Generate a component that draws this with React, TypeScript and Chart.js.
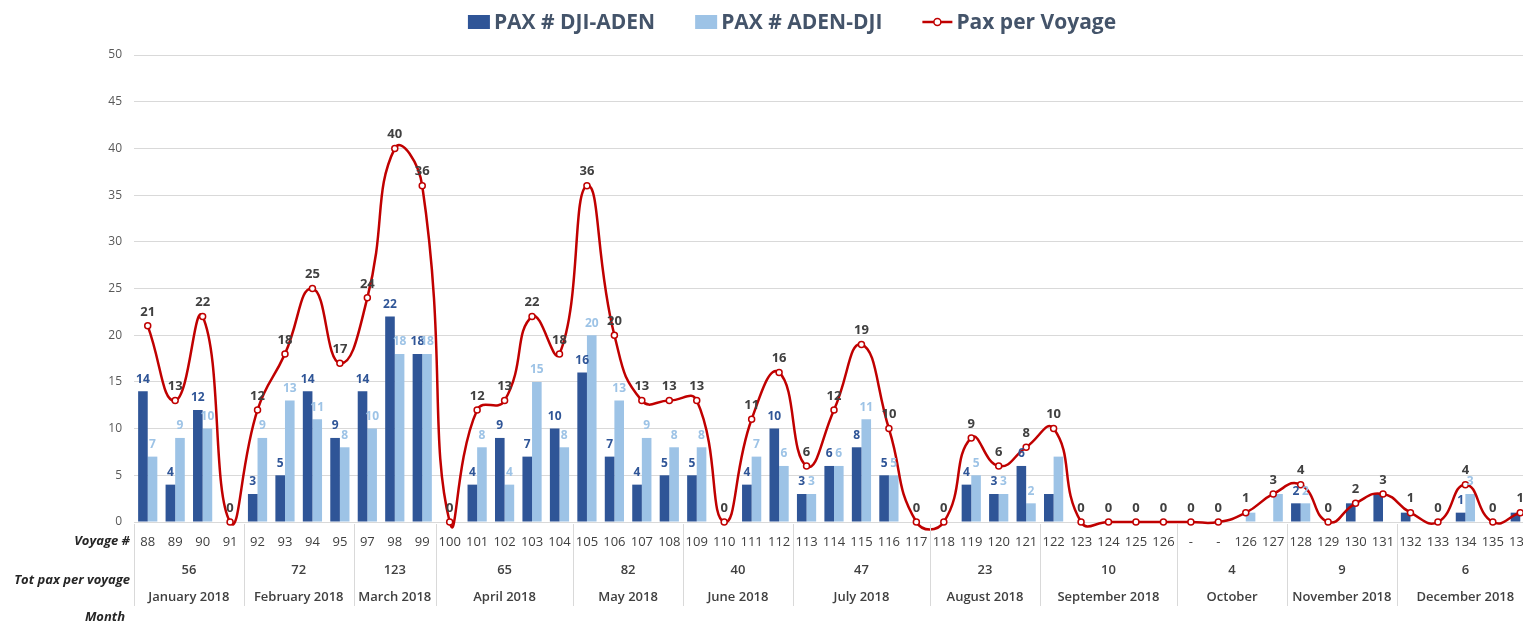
import React, { useEffect, useRef } from "react";
import { Chart, registerables } from "chart.js";
Chart.register(...registerables);

const voyages = [
  "88", "89", "90", "91",
  "92", "93", "94", "95",
  "97", "98", "99",
  "100", "101", "102", "103", "104",
  "105", "106", "107", "108",
  "109", "110", "111", "112",
  "113", "114", "115", "116", "117",
  "118", "119", "120", "121",
  "122", "123", "124", "125", "126",
  "-", "-", "126", "127",
  "128", "129", "130", "131",
  "132", "133", "134", "135", "136",
];

const paxDjiAden = [
  14, 4, 12, 0,
  3, 5, 14, 9,
  14, 22, 18,
  0, 4, 9, 7, 10,
  16, 7, 4, 5,
  5, 0, 4, 10,
  3, 6, 8, 5, 0,
  0, 4, 3, 6,
  3, 0, 0, 0, 0,
  0, 0, 0, 0,
  2, 0, 2, 3,
  1, 0, 1, 0, 1,
];

const paxAdenDji = [
  7, 9, 10, 0,
  9, 13, 11, 8,
  10, 18, 18,
  0, 8, 4, 15, 8,
  20, 13, 9, 8,
  8, 0, 7, 6,
  3, 6, 11, 5, 0,
  0, 5, 3, 2,
  7, 0, 0, 0, 0,
  0, 0, 1, 3,
  2, 0, 0, 0,
  0, 0, 3, 0, 0,
];

const paxPerVoyage = [
  21, 13, 22, 0,
  12, 18, 25, 17,
  24, 40, 36,
  0, 12, 13, 22, 18,
  36, 20, 13, 13,
  13, 0, 11, 16,
  6, 12, 19, 10, 0,
  0, 9, 6, 8,
  10, 0, 0, 0, 0,
  0, 0, 1, 3,
  4, 0, 2, 3,
  1, 0, 4, 0, 1,
];

const monthNames = [
  "January 2018", "February 2018", "March 2018", "April 2018", "May 2018", "June 2018",
  "July 2018", "August 2018", "September 2018", "October", "November 2018", "December 2018",
];
const monthVoyageCounts = [4, 4, 3, 5, 4, 4, 5, 4, 5, 4, 4, 5];
const monthTotals = ["56", "72", "123", "65", "82", "40", "47", "23", "10", "4", "9", "6"];

// category indices whose bar value labels are not shown in the original
const hiddenBarLabelIdx = [33, 40, 41, 44, 45, 46, 50];

const legendNames = ["PAX # DJI-ADEN", "PAX # ADEN-DJI", "Pax per Voyage"];

const DARK = "#2F5597";
const LIGHT = "#9DC3E6";
const RED = "#C00000";
const FONT = "'Open Sans', 'Noto Sans', sans-serif";

const labelsPlugin = {
  id: "valueLabels",
  afterDatasetsDraw(chart: any) {
    const ctx = chart.ctx;
    ctx.save();
    ctx.textAlign = "center";
    ctx.textBaseline = "middle";
    [0, 1].forEach((di) => {
      const meta = chart.getDatasetMeta(di);
      const ds = chart.data.datasets[di];
      ctx.fillStyle = di === 0 ? DARK : LIGHT;
      ctx.font = `bold 12px ${FONT}`;
      meta.data.forEach((el: any, i: number) => {
        const v = ds.data[i];
        if (!v || hiddenBarLabelIdx.includes(i)) return;
        ctx.fillText(String(v), el.x, el.y - 12);
      });
    });
    const lm = chart.getDatasetMeta(2);
    const lds = chart.data.datasets[2];
    ctx.fillStyle = "#404040";
    ctx.font = `bold 13px ${FONT}`;
    lm.data.forEach((el: any, i: number) => {
      ctx.fillText(String(lds.data[i]), el.x, el.y - 14);
    });
    ctx.restore();
  },
};

const tablePlugin = {
  id: "tableAndLegend",
  afterDraw(chart: any) {
    const ctx = chart.ctx;
    const xs = chart.scales.x;
    ctx.save();
    // separators
    ctx.strokeStyle = "#d9d9d9";
    ctx.lineWidth = 1;
    let start = 0;
    const bounds: number[] = [xs.left];
    monthVoyageCounts.forEach((c) => {
      start += c;
      if (start < voyages.length) {
        bounds.push((xs.getPixelForValue(start - 1) + xs.getPixelForValue(start)) / 2);
      }
    });
    bounds.forEach((bx) => {
      const x = Math.round(bx) + 0.5;
      ctx.beginPath();
      ctx.moveTo(x, 524);
      ctx.lineTo(x, 606);
      ctx.stroke();
    });
    // month totals & names
    ctx.textAlign = "center";
    ctx.textBaseline = "middle";
    start = 0;
    monthVoyageCounts.forEach((c, m) => {
      const cx = (xs.getPixelForValue(start) + xs.getPixelForValue(start + c - 1)) / 2;
      ctx.fillStyle = "#404040";
      ctx.font = `600 13px ${FONT}`;
      ctx.fillText(monthTotals[m], cx, 570);
      ctx.fillText(monthNames[m], cx, 597);
      start += c;
    });
    // row headers
    ctx.textAlign = "right";
    ctx.fillStyle = "#262626";
    ctx.font = `italic bold 13px ${FONT}`;
    ctx.fillText("Voyage #", 130, 541);
    ctx.fillText("Tot pax per voyage", 130, 580);
    ctx.fillText("Month", 125, 617);

    // legend
    ctx.font = `bold 21px ${FONT}`;
    ctx.textAlign = "left";
    const boxW = 22;
    const gap = 4;
    const itemGap = 40;
    const lineSym = 30;
    const widths = legendNames.map((n) => ctx.measureText(n).width);
    const total =
      boxW + gap + widths[0] + itemGap + boxW + gap + widths[1] + itemGap + lineSym + gap + widths[2];
    let x = 792 - total / 2;
    const y = 22;
    ctx.fillStyle = DARK;
    ctx.fillRect(x, y - 7, boxW, 14);
    x += boxW + gap;
    ctx.fillStyle = "#44546A";
    ctx.fillText(legendNames[0], x, y + 1);
    x += widths[0] + itemGap;
    ctx.fillStyle = LIGHT;
    ctx.fillRect(x, y - 7, boxW, 14);
    x += boxW + gap;
    ctx.fillStyle = "#44546A";
    ctx.fillText(legendNames[1], x, y + 1);
    x += widths[1] + itemGap;
    ctx.strokeStyle = RED;
    ctx.lineWidth = 2.5;
    ctx.beginPath();
    ctx.moveTo(x, y);
    ctx.lineTo(x + lineSym, y);
    ctx.stroke();
    ctx.beginPath();
    ctx.arc(x + lineSym / 2, y, 3.5, 0, Math.PI * 2);
    ctx.fillStyle = "#fff";
    ctx.fill();
    ctx.lineWidth = 1.5;
    ctx.stroke();
    x += lineSym + gap;
    ctx.fillStyle = "#44546A";
    ctx.fillText(legendNames[2], x, y + 1);
    ctx.restore();
  },
};

export default function App() {
  const ref = useRef<HTMLCanvasElement>(null);
  useEffect(() => {
    if (!ref.current) return;
    const chart = new Chart(ref.current, {
      type: "bar",
      data: {
        labels: voyages,
        datasets: [
          {
            type: "bar",
            label: legendNames[0],
            data: paxDjiAden,
            backgroundColor: DARK,
            categoryPercentage: 0.7,
            barPercentage: 1.0,
            order: 1,
          },
          {
            type: "bar",
            label: legendNames[1],
            data: paxAdenDji,
            backgroundColor: LIGHT,
            categoryPercentage: 0.7,
            barPercentage: 1.0,
            order: 2,
          },
          {
            type: "line",
            label: legendNames[2],
            data: paxPerVoyage,
            borderColor: RED,
            borderWidth: 2.5,
            tension: 0.5,
            capBezierPoints: false,
            pointRadius: 3,
            pointBackgroundColor: "#ffffff",
            pointBorderColor: RED,
            pointBorderWidth: 1.5,
            clip: false,
            order: 0,
          } as any,
        ],
      },
      options: {
        animation: false,
        responsive: false,
        maintainAspectRatio: false,
        layout: { padding: { top: 55, right: 11, left: 0, bottom: 0 } },
        plugins: {
          legend: { display: false },
          tooltip: { enabled: false },
        },
        scales: {
          x: {
            grid: { display: false, drawTicks: false },
            border: { display: true, color: "#d9d9d9" },
            ticks: {
              autoSkip: false,
              maxRotation: 0,
              padding: 12,
              color: "#404040",
              font: { family: FONT, size: 13 },
            },
            afterFit: (s: any) => {
              s.height = 102;
            },
          },
          y: {
            min: 0,
            max: 50,
            grid: { color: "#d9d9d9", drawTicks: false },
            border: { display: false },
            ticks: {
              stepSize: 5,
              padding: 12,
              color: "#595959",
              font: { family: FONT, size: 12 },
            },
            afterFit: (s: any) => {
              s.width = 134;
            },
          },
        },
      },
      plugins: [labelsPlugin, tablePlugin],
    });
    return () => chart.destroy();
  }, []);
  return (
    <div
      style={{
        position: "fixed",
        left: 0,
        top: 0,
        width: 1523,
        height: 624,
        overflow: "hidden",
        background: "#fff",
      }}
    >
      <canvas ref={ref} width={1545} height={624} style={{ display: "block" }} />
    </div>
  );
}
